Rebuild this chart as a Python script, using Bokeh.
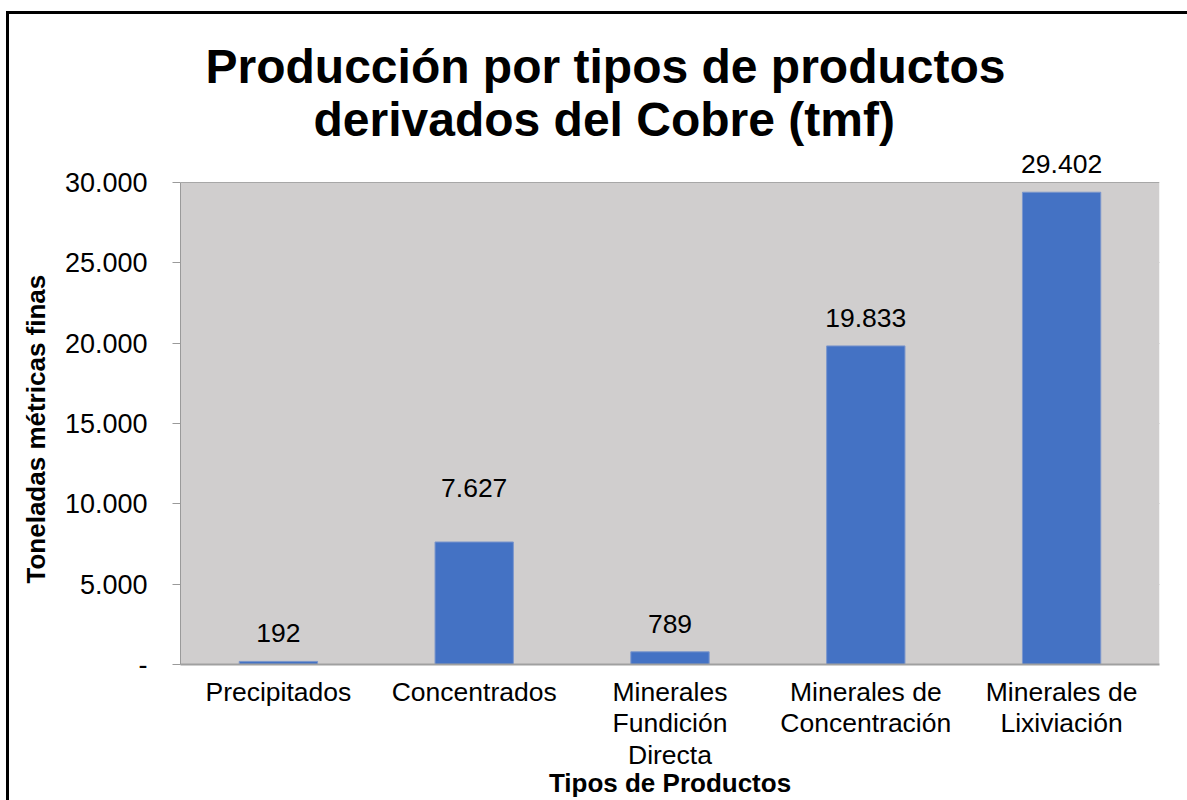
from bokeh.plotting import figure
from bokeh.models import ColumnDataSource, FixedTicker, Title, Label, InlineStyleSheet, BoxAnnotation
from bokeh.embed import file_html
from bokeh.resources import INLINE

categories = ["Precipitados", "Concentrados", "Minerales\nFundición\nDirecta",
              "Minerales de\nConcentración", "Minerales de\nLixiviación"]
values = [192, 7627, 789, 19833, 29402]
y_ticks = [0, 5000, 10000, 15000, 20000, 25000, 30000]
y_tick_labels = ["-", "5.000", "10.000", "15.000", "20.000", "25.000", "30.000"]
title_lines = ["Producción por tipos de productos", "derivados del Cobre (tmf)"]
y_axis_title = "Toneladas métricas finas"
x_axis_title = "Tipos de Productos"
y_max = 30000

# label offsets in pixels above the bar tops (the 7.627 label sits higher in the source)
label_offsets = [28, 54, 28, 28, 28]

def fmt(v):
    return f"{v:,}".replace(",", ".")

src = ColumnDataSource(dict(cat=categories, val=values))

FONT = "Liberation Sans"

# extra headroom above 30.000 so the top data label is not clipped by the frame
p = figure(x_range=categories, y_range=(0, y_max * 32 / 30), width=1187, height=800,
           output_backend="svg", toolbar_location=None,
           min_border_left=180, min_border_right=28, min_border_top=150, min_border_bottom=136)
p.title.visible = False
p.add_layout(Title(text=title_lines[1], align="left", text_font=FONT, text_font_size="48px",
                   text_font_style="bold", text_color="black", offset=133, standoff=10), "above")
p.add_layout(Title(text=title_lines[0], align="left", text_font=FONT, text_font_size="48px",
                   text_font_style="bold", text_color="black", offset=25, standoff=-14), "above")

p.background_fill_color = "white"
p.border_fill_color = "white"
p.outline_line_color = None

p.add_layout(BoxAnnotation(bottom=0, top=y_max, fill_color="#D0CECE", fill_alpha=1.0,
                           line_color=None, level="underlay"))

p.vbar(x="cat", top="val", width=0.4, source=src, fill_color="#4472C4",
       line_color="#7B96CC", line_width=1)

# categorical factor i is centred at synthetic coordinate i + 0.5
for i, (v, off) in enumerate(zip(values, label_offsets)):
    p.add_layout(Label(x=i + 0.5, y=v, text=fmt(v), text_align="center",
                       text_baseline="alphabetic", y_offset=off, text_font=FONT,
                       text_font_size="26.5px", text_color="black"))

p.ygrid.grid_line_color = "#9A9A9A"
p.ygrid.grid_line_width = 1
p.ygrid.level = "underlay"
p.xgrid.grid_line_color = None

p.yaxis.ticker = FixedTicker(ticks=y_ticks)
p.yaxis.bounds = (0, y_max)
p.yaxis.major_label_overrides = {t: l for t, l in zip(y_ticks, y_tick_labels)}
p.yaxis.axis_line_color = "#9A9A9A"
p.yaxis.major_tick_line_color = "#9A9A9A"
p.yaxis.major_tick_out = 8
p.yaxis.major_tick_in = 0
p.yaxis.minor_tick_line_color = None
p.yaxis.major_label_standoff = 25
p.yaxis.major_label_text_font = FONT
p.yaxis.major_label_text_font_size = "27px"
p.yaxis.major_label_text_color = "black"

# y-axis title, centred on the 0..30.000 part of the axis
p.add_layout(Title(text=y_axis_title, align="left", text_font=FONT, text_font_size="26px",
                   text_font_style="bold", text_color="black", offset=81, standoff=21), "left")

p.xaxis.axis_line_color = "#A0A0A0"
p.xaxis.axis_line_width = 2
p.xaxis.major_tick_line_color = None
p.xaxis.minor_tick_line_color = None
p.xaxis.major_label_standoff = 6
p.xaxis.major_label_text_font = FONT
p.xaxis.major_label_text_font_size = "26.5px"
p.xaxis.major_label_text_color = "black"
p.xaxis.major_label_text_line_height = 1.05
p.xaxis.axis_label = x_axis_title
p.xaxis.axis_label_text_font = FONT
p.xaxis.axis_label_text_font_size = "26px"
p.xaxis.axis_label_text_font_style = "bold"
p.xaxis.axis_label_text_color = "black"
p.xaxis.axis_label_standoff = -5

p.stylesheets = [InlineStyleSheet(css=":host::after { content: ''; position: absolute; left: 6px; top: 11px; right: 0px; bottom: 0px; border-left: 3px solid black; border-top: 3px solid black; pointer-events: none; z-index: 10; }")]

open("out.html", "w").write(file_html(p, INLINE))
